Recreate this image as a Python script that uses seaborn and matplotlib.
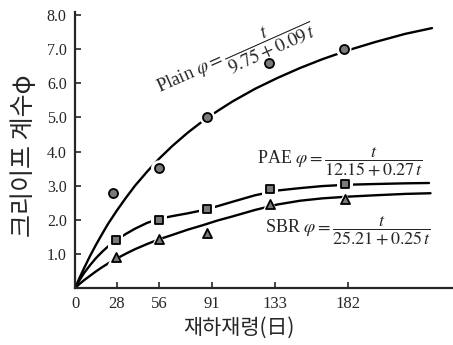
import matplotlib
matplotlib.use('Agg')
import matplotlib.pyplot as plt
import seaborn as sns
import pandas as pd

# creep coefficient curves
plain_t = [0, 3, 6, 10, 14, 18, 22, 28, 34, 40, 48, 56, 65, 75, 85, 95, 105,
           120, 135, 150, 165, 182, 200, 220, 238]
plain_phi = [0, 0.30, 0.58, 0.94, 1.27, 1.58, 1.88, 2.28, 2.65, 3.00, 3.41,
             3.79, 4.17, 4.55, 4.89, 5.19, 5.47, 5.84, 6.16, 6.45, 6.71, 6.97,
             7.21, 7.45, 7.62]

pae_t = [0, 3, 6, 10, 14, 18, 22, 28, 34, 40, 48, 56, 65, 75, 85, 95, 105,
         120, 135, 150, 165, 182, 200, 220, 236]
pae_phi = [0, 0.23, 0.44, 0.67, 0.88, 1.06, 1.22, 1.42, 1.59, 1.74, 1.91,
           2.03, 2.11, 2.19, 2.28, 2.40, 2.53, 2.72, 2.86, 2.93, 2.99, 3.03,
           3.05, 3.07, 3.08]

sbr_t = [0, 3, 6, 10, 14, 18, 22, 28, 34, 40, 48, 56, 65, 75, 85, 95, 105,
         120, 135, 150, 165, 182, 200, 220, 237]
sbr_phi = [0, 0.12, 0.23, 0.36, 0.49, 0.61, 0.72, 0.87, 1.01, 1.14, 1.29,
           1.43, 1.56, 1.71, 1.84, 1.98, 2.10, 2.29, 2.45, 2.56, 2.63, 2.68,
           2.72, 2.76, 2.78]

# measured points
plain_pt_t = [25, 56, 88, 129, 179]
plain_pt_phi = [2.78, 3.51, 5.02, 6.61, 7.01]
pae_pt_t = [27, 56, 88, 130, 180]
pae_pt_phi = [1.41, 1.99, 2.31, 2.89, 3.05]
sbr_pt_t = [27, 56, 88, 130, 180]
sbr_pt_phi = [0.90, 1.43, 1.60, 2.46, 2.60]

x_ticks = [0, 28, 56, 91, 133, 182]
y_ticks = [1, 2, 3, 4, 5, 6, 7, 8]

sns.set_style('ticks')
plt.rcParams['font.family'] = ['Liberation Serif', 'DejaVu Serif']
plt.rcParams['mathtext.fontset'] = 'stix'

fig = plt.figure(figsize=(4.53, 3.45), dpi=100)
ax = fig.add_axes([0.1656, 0.165, 0.8344, 0.801])

curves = pd.concat([
    pd.DataFrame({'t': plain_t, 'phi': plain_phi, 'mix': 'Plain'}),
    pd.DataFrame({'t': pae_t, 'phi': pae_phi, 'mix': 'PAE'}),
    pd.DataFrame({'t': sbr_t, 'phi': sbr_phi, 'mix': 'SBR'}),
])
sns.lineplot(data=curves, x='t', y='phi', units='mix', estimator=None,
             color='black', lw=1.7, ax=ax, legend=False)

pts = [(plain_pt_t, plain_pt_phi, 'o', 6.5),
       (pae_pt_t, pae_pt_phi, 's', 6),
       (sbr_pt_t, sbr_pt_phi, '^', 6.5)]
for tt, pp, m, s in pts:
    # white halo so the curve breaks around each marker
    sns.scatterplot(x=tt, y=pp, marker=m, s=(s + 5) ** 2, color='white',
                    edgecolor='none', ax=ax, zorder=3)
    sns.scatterplot(x=tt, y=pp, marker=m, s=s ** 2, color='#7a7a7a',
                    edgecolor='black', linewidth=1.3, ax=ax, zorder=4)

ax.set_xlim(0, 252)
ax.set_ylim(0, 8.1)
ax.set_xticks(x_ticks)
ax.set_xticklabels([str(v) for v in x_ticks])
ax.set_yticks(y_ticks)
ax.set_yticklabels([f'{v:.1f}' for v in y_ticks])
ax.tick_params(direction='in', length=4, width=1.2)
ax.tick_params(axis='y', labelsize=11.5, pad=6)
ax.tick_params(axis='x', labelsize=12, pad=6)
for side in ['top', 'right']:
    ax.spines[side].set_visible(False)
for side in ['left', 'bottom']:
    ax.spines[side].set_linewidth(1.6)

ax.set_xlabel('재하재령(日)', family=['Noto Sans CJK KR', 'DejaVu Sans'],
              fontsize=15)
ax.xaxis.set_label_coords(0.434, -0.105)
ax.set_ylabel('크리이프 계수φ', family=['Noto Sans CJK KR', 'DejaVu Sans'],
              fontsize=18)
ax.yaxis.set_label_coords(-0.10, 0.48)

ax.text(56.7, 5.71, r'Plain $\varphi=\dfrac{t}{9.75+0.09\,t}$', rotation=24,
        rotation_mode='anchor', ha='left', va='baseline', fontsize=13.5)
ax.text(121.3, 3.67, r'PAE $\varphi=\dfrac{t}{12.15+0.27\,t}$',
        ha='left', va='baseline', fontsize=13)
ax.text(126.7, 1.65, r'SBR $\varphi=\dfrac{t}{25.21+0.25\,t}$',
        ha='left', va='baseline', fontsize=13)

fig.savefig('out.png', dpi=100)
